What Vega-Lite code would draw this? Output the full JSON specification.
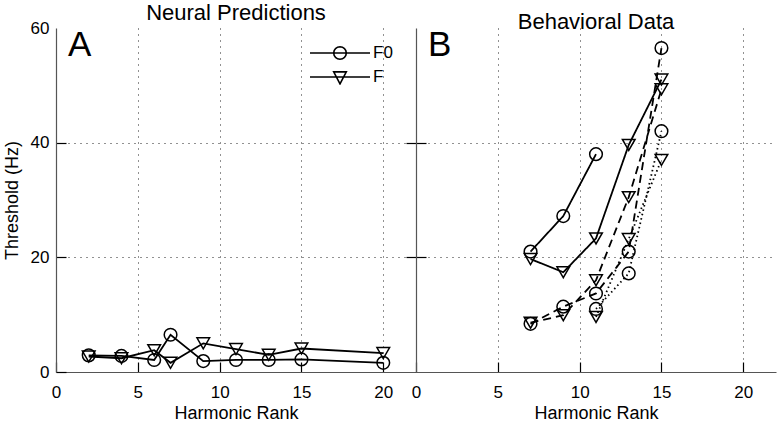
{
  "$schema": "https://vega.github.io/schema/vega-lite/v6.json",
  "padding": {"left": 3, "top": 2, "right": 2, "bottom": 0},
  "background": "white",
  "config": {
    "font": "Liberation Sans",
    "view": {"stroke": null},
    "concat": {"spacing": 0},
    "axis": {
      "domainColor": "#555555",
      "domainWidth": 1.2,
      "tickColor": "black",
      "tickWidth": 1.2,
      "labelColor": "black",
      "labelFontSize": 17,
      "labelFlush": false,
      "labelOverlap": false,
      "titleColor": "black",
      "titleFontSize": 18,
      "titleFontWeight": "normal",
      "gridColor": "#222222",
      "gridDash": [1, 5],
      "gridWidth": 1
    },
    "title": {"fontSize": 22, "fontWeight": "normal", "color": "black", "frame": "group"}
  },
  "datasets": {
    "neural": [
      {"measure": "F0", "rank": 2, "threshold": 2.9},
      {"measure": "F0", "rank": 4, "threshold": 2.8},
      {"measure": "F0", "rank": 6, "threshold": 2.1},
      {"measure": "F0", "rank": 7, "threshold": 6.5},
      {"measure": "F0", "rank": 9, "threshold": 1.9},
      {"measure": "F0", "rank": 11, "threshold": 2.1},
      {"measure": "F0", "rank": 13, "threshold": 2.1},
      {"measure": "F0", "rank": 15, "threshold": 2.2},
      {"measure": "F0", "rank": 20, "threshold": 1.6},
      {"measure": "F", "rank": 2, "threshold": 2.7},
      {"measure": "F", "rank": 4, "threshold": 2.4},
      {"measure": "F", "rank": 6, "threshold": 3.8},
      {"measure": "F", "rank": 7, "threshold": 1.6},
      {"measure": "F", "rank": 9, "threshold": 5.0},
      {"measure": "F", "rank": 11, "threshold": 4.0},
      {"measure": "F", "rank": 13, "threshold": 3.0},
      {"measure": "F", "rank": 15, "threshold": 4.1},
      {"measure": "F", "rank": 20, "threshold": 3.3}
    ],
    "behav": [
      {"measure": "F0", "style": "solid", "rank": 7, "threshold": 21.0},
      {"measure": "F0", "style": "solid", "rank": 9, "threshold": 27.2},
      {"measure": "F0", "style": "solid", "rank": 11, "threshold": 38.0},
      {"measure": "F", "style": "solid", "rank": 7, "threshold": 19.7},
      {"measure": "F", "style": "solid", "rank": 9, "threshold": 17.4},
      {"measure": "F", "style": "solid", "rank": 11, "threshold": 23.3},
      {"measure": "F", "style": "solid", "rank": 13, "threshold": 39.6},
      {"measure": "F", "style": "solid", "rank": 15, "threshold": 51.0},
      {"measure": "F0", "style": "dashed", "rank": 7, "threshold": 8.4},
      {"measure": "F0", "style": "dashed", "rank": 9, "threshold": 11.4},
      {"measure": "F0", "style": "dashed", "rank": 11, "threshold": 13.7},
      {"measure": "F0", "style": "dashed", "rank": 13, "threshold": 21.0},
      {"measure": "F0", "style": "dashed", "rank": 15, "threshold": 56.5},
      {"measure": "F", "style": "dashed", "rank": 7, "threshold": 8.6},
      {"measure": "F", "style": "dashed", "rank": 9, "threshold": 9.9},
      {"measure": "F", "style": "dashed", "rank": 11, "threshold": 16.0},
      {"measure": "F", "style": "dashed", "rank": 13, "threshold": 30.5},
      {"measure": "F", "style": "dashed", "rank": 15, "threshold": 49.3},
      {"measure": "F0", "style": "dotted", "rank": 11, "threshold": 11.0},
      {"measure": "F0", "style": "dotted", "rank": 13, "threshold": 17.2},
      {"measure": "F0", "style": "dotted", "rank": 15, "threshold": 42.0},
      {"measure": "F", "style": "dotted", "rank": 11, "threshold": 9.6},
      {"measure": "F", "style": "dotted", "rank": 13, "threshold": 23.2},
      {"measure": "F", "style": "dotted", "rank": 15, "threshold": 37.0}
    ]
  },
  "spacing": 0,
  "bounds": "flush",
  "resolve": {
    "scale": {"shape": "independent", "strokeDash": "independent"},
    "legend": {"shape": "independent", "strokeDash": "independent"}
  },
  "hconcat": [
    {
      "width": 360,
      "height": 344,
      "title": {"text": "Neural Predictions", "offset": -6},
      "data": {"name": "neural"},
      "layer": [
        {
          "mark": {"type": "line", "color": "black", "strokeWidth": 1.8},
          "encoding": {
            "x": {
              "field": "rank", "type": "quantitative",
              "scale": {"domain": [0, 22], "nice": false},
              "axis": {
                "values": [0, 5, 10, 15, 20], "title": "Harmonic Rank",
                "tickSize": -10, "labelPadding": 22, "titlePadding": 4,
                "grid": true,
                "gridOpacity": {"condition": {"test": "datum.value === 0", "value": 0}, "value": 1}
              }
            },
            "y": {
              "field": "threshold", "type": "quantitative",
              "scale": {"domain": [0, 60], "nice": false},
              "axis": {
                "values": [0, 20, 40, 60], "title": "Threshold (Hz)",
                "tickSize": -10, "labelPadding": 17, "titlePadding": 9,
                "grid": true,
                "gridOpacity": {"condition": {"test": "datum.value === 0 || datum.value === 60", "value": 0}, "value": 1},
                "tickOpacity": {"condition": {"test": "datum.value === 60", "value": 0}, "value": 1}
              }
            },
            "detail": {"field": "measure"}
          }
        },
        {
          "mark": {"type": "point", "filled": false, "color": "black", "strokeWidth": 1.5, "size": 160, "opacity": 1},
          "encoding": {
            "x": {"field": "rank", "type": "quantitative"},
            "y": {
              "field": "threshold", "type": "quantitative",
              "axis": {"orient": "right", "values": [20, 40], "labels": false, "domain": false, "grid": false, "title": null, "tickSize": -10}
            },
            "shape": {
              "field": "measure", "type": "nominal",
              "scale": {"domain": ["F0", "F"], "range": ["circle", "triangle-down"]},
              "legend": null
            }
          }
        },
        {
          "mark": {"type": "point", "filled": false, "color": "black", "strokeWidth": 1.6, "size": 3600, "opacity": 0},
          "encoding": {
            "x": {"field": "rank", "type": "quantitative"},
            "y": {"field": "threshold", "type": "quantitative", "axis": null},
            "shape": {
              "field": "measure", "type": "nominal",
              "scale": {
                "domain": ["F0", "F"],
                "range": [
                  "M-1,0L1,0M0.21,0L0.194,0.08L0.148,0.148L0.08,0.194L0,0.21L-0.08,0.194L-0.148,0.148L-0.194,0.08L-0.21,0L-0.194,-0.08L-0.148,-0.148L-0.08,-0.194L0,-0.21L0.08,-0.194L0.148,-0.148L0.194,-0.08Z",
                  "M-1,0L1,0M-0.21,-0.17L0.21,-0.17L0,0.23Z"
                ]
              },
              "legend": {
                "orient": "none", "legendX": 253, "legendY": 17, "title": null, "padding": 0,
                "symbolSize": 3600, "clipHeight": 16, "rowPadding": 7,
                "labelFontSize": 17, "labelOffset": 2, "labelColor": "black",
                "symbolStrokeColor": "black", "symbolStrokeWidth": 1.6, "symbolFillColor": "transparent",
                "symbolOpacity": 1,
                "encode": {
                  "symbols": {
                    "update": {
                      "size": {"value": 3600},
                      "fill": {"value": "transparent"},
                      "stroke": {"value": "black"},
                      "strokeWidth": {"value": 1.6},
                      "opacity": {"value": 1}
                    }
                  }
                }
              }
            }
          }
        },
        {
          "data": {"values": [{"label": "A"}]},
          "mark": {"type": "text", "fontSize": 35, "align": "left", "baseline": "alphabetic", "dx": 12, "dy": 28, "color": "black"},
          "encoding": {
            "x": {"datum": 0},
            "y": {"datum": 60, "axis": null},
            "text": {"field": "label"}
          }
        }
      ],
      "resolve": {
        "axis": {"y": "independent"},
        "scale": {"shape": "independent"},
        "legend": {"shape": "independent"}
      }
    },
    {
      "width": 360,
      "height": 344,
      "title": {"text": "Behavioral Data", "offset": -6},
      "data": {"name": "behav"},
      "layer": [
        {
          "mark": {"type": "line", "color": "black", "strokeWidth": 1.8},
          "encoding": {
            "x": {
              "field": "rank", "type": "quantitative",
              "scale": {"domain": [0, 22], "nice": false},
              "axis": {
                "values": [0, 5, 10, 15, 20], "title": "Harmonic Rank",
                "tickSize": -10, "labelPadding": 22, "titlePadding": 4,
                "grid": true,
                "gridOpacity": {"condition": {"test": "datum.value === 0", "value": 0}, "value": 1}
              }
            },
            "y": {
              "field": "threshold", "type": "quantitative",
              "scale": {"domain": [0, 60], "nice": false},
              "axis": {
                "values": [20, 40], "title": null, "labels": false,
                "tickSize": -10, "grid": true
              }
            },
            "strokeDash": {
              "field": "style", "type": "nominal",
              "scale": {"domain": ["solid", "dashed", "dotted"], "range": [[1, 0], [8, 5], [1.5, 3]]},
              "legend": null
            },
            "detail": {"field": "measure"}
          }
        },
        {
          "mark": {"type": "point", "filled": false, "color": "black", "strokeWidth": 1.5, "size": 160, "opacity": 1},
          "encoding": {
            "x": {"field": "rank", "type": "quantitative"},
            "y": {"field": "threshold", "type": "quantitative"},
            "shape": {
              "field": "measure", "type": "nominal",
              "scale": {"domain": ["F0", "F"], "range": ["circle", "triangle-down"]},
              "legend": null
            }
          }
        },
        {
          "data": {"values": [{"label": "B"}]},
          "mark": {"type": "text", "fontSize": 35, "align": "left", "baseline": "alphabetic", "dx": 12, "dy": 28, "color": "black"},
          "encoding": {
            "x": {"datum": 0},
            "y": {"datum": 60},
            "text": {"field": "label"}
          }
        }
      ]
    }
  ]
}
